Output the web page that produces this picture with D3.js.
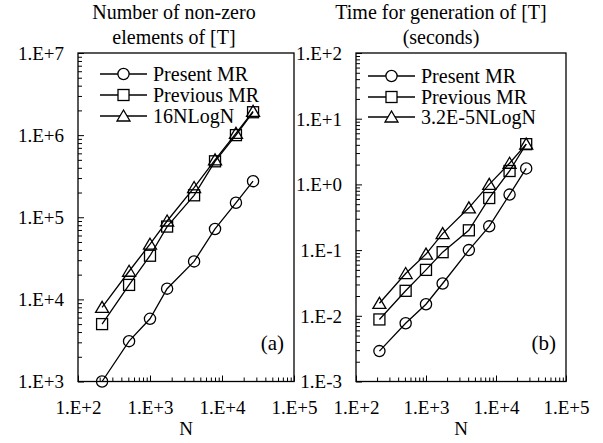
<!DOCTYPE html>
<html><head><meta charset="utf-8">
<script src="https://cdn.jsdelivr.net/npm/d3@7"></script>
<style>body{margin:0;background:#fff}svg{display:block}text{font-family:"Liberation Serif","Times New Roman",serif;fill:#000}</style>
</head><body><svg id="c" width="603" height="443"></svg>
<script>
// ---- data ----
const N = [216, 512, 1000, 1728, 4096, 8000, 15625, 27000];
const xTickLabels = ["1.E+2", "1.E+3", "1.E+4", "1.E+5"];
const seriesNames = ["Present MR", "Previous MR"];
// panel (a): non-zero elements
const nnzPresent  = [1000, 3100, 5800, 13500, 29000, 72000, 150000, 275000];
const nnzPrevious = [5000, 15000, 34000, 77000, 185000, 480000, 1000000, 1900000];
const nnzRef      = [8000, 22000, 47000, 90000, 230000, 500000, 1050000, 1950000];
const nnzRefName  = "16NLogN";
const nnzYLabels  = ["1.E+3", "1.E+4", "1.E+5", "1.E+6", "1.E+7"];
// panel (b): generation time (s)
const timePresent  = [0.0029, 0.0077, 0.0150, 0.031, 0.10, 0.23, 0.70, 1.75];
const timePrevious = [0.0088, 0.024, 0.050, 0.093, 0.20, 0.62, 1.6, 4.1];
const timeRef      = [0.0155, 0.044, 0.087, 0.178, 0.44, 1.0, 2.1, 4.1];
const timeRefName  = "3.2E-5NLogN";
const timeYLabels  = ["1.E-3", "1.E-2", "1.E-1", "1.E+0", "1.E+1", "1.E+2"];

const svg = d3.select("#c");
const FONT = "Liberation Serif";

function minorTicks(lo, hi) {
  const out = [];
  for (let e = Math.round(Math.log10(lo)); e < Math.round(Math.log10(hi)); e++)
    for (let k = 2; k <= 9; k++) out.push(k * Math.pow(10, e));
  return out;
}

function marker(g, type, x, y, fill) {
  if (type === 0) g.append("circle").attr("cx", x).attr("cy", y).attr("r", 5.6)
      .attr("fill", fill).attr("stroke", "#000").attr("stroke-width", 1.3);
  else if (type === 1) g.append("rect").attr("x", x - 5.5).attr("y", y - 5.5).attr("width", 11).attr("height", 11)
      .attr("fill", fill).attr("stroke", "#000").attr("stroke-width", 1.3);
  else g.append("path").attr("d", `M${x},${y - 6}L${x - 6.5},${y + 5}L${x + 6.5},${y + 5}Z`)
      .attr("fill", fill).attr("stroke", "#000").attr("stroke-width", 1.3);
}

function panel(o) {
  const x = d3.scaleLog().domain([1e2, 1e5]).range([o.x0, o.x1]);
  const y = d3.scaleLog().domain(o.yDomain).range([o.y0, o.y1]);
  const g = svg.append("g");

  // minor ticks
  const ax = g.append("g").attr("transform", `translate(0,${o.y0})`)
    .call(d3.axisBottom(x).tickValues(minorTicks(1e2, 1e5)).tickSize(-4).tickFormat(""));
  ax.select(".domain").remove();
  const ay = g.append("g").attr("transform", `translate(${o.x0},0)`)
    .call(d3.axisLeft(y).tickValues(minorTicks(o.yDomain[0], o.yDomain[1])).tickSize(-4).tickFormat(""));
  ay.select(".domain").remove();
  // major ticks
  const xMaj = [1e2, 1e3, 1e4, 1e5];
  const bx = g.append("g").attr("transform", `translate(0,${o.y0})`)
    .call(d3.axisBottom(x).tickValues(xMaj).tickSize(-6).tickFormat((d, i) => xTickLabels[i]));
  bx.select(".domain").remove();
  bx.selectAll("text").attr("y", 0).attr("dy", 0).attr("transform", "translate(0,32)")
    .style("font-family", FONT).style("font-size", "19px");
  const yMaj = o.yLabels.map((_, i) => o.yDomain[0] * Math.pow(10, i));
  const by = g.append("g").attr("transform", `translate(${o.x0},0)`)
    .call(d3.axisLeft(y).tickValues(yMaj).tickSize(-6).tickFormat((d, i) => o.yLabels[i]));
  by.select(".domain").remove();
  by.selectAll("text").attr("x", -14).attr("dy", "0.34em")
    .style("font-family", FONT).style("font-size", "19px");
  g.selectAll(".tick line").attr("stroke", "#000").attr("stroke-width", 1);

  // frame
  g.append("rect").attr("x", o.x0).attr("y", o.y1).attr("width", o.x1 - o.x0).attr("height", o.y0 - o.y1)
    .attr("fill", "none").attr("stroke", "#000").attr("stroke-width", 1.3);

  // series
  const line = d3.line().x((d, i) => x(N[i])).y(d => y(d));
  o.series.forEach((s, k) => {
    g.append("path").attr("d", line(s)).attr("fill", "none").attr("stroke", "#000").attr("stroke-width", 1.3);
    s.forEach((v, i) => marker(g, k, x(N[i]), y(v), "none"));
  });

  // legend
  o.names.forEach((nm, k) => {
    const ly = o.legY[k];
    g.append("line").attr("x1", o.legX).attr("x2", o.legX + 47).attr("y1", ly).attr("y2", ly)
      .attr("stroke", "#000").attr("stroke-width", 1.3);
    marker(g, k, o.legX + 23.5, ly, "#fff");
    g.append("text").attr("x", o.legX + 53).attr("y", ly).attr("dy", "0.34em")
      .style("font-size", "20px").text(nm);
  });

  // title
  o.title.forEach((t, i) => g.append("text").attr("x", o.tx).attr("y", 19 + i * 25)
    .attr("text-anchor", "middle").style("font-size", "20px").text(t));
  // axis title
  g.append("text").attr("x", (o.x0 + o.x1) / 2).attr("y", 435).attr("text-anchor", "middle")
    .style("font-size", "19px").text("N");
  // panel letter
  g.append("text").attr("x", o.x1 - 10).attr("y", 350).attr("text-anchor", "end")
    .style("font-size", "21px").text(o.letter);
}

panel({x0: 78, x1: 294, y0: 381.5, y1: 53, yDomain: [1e3, 1e7], yLabels: nnzYLabels,
  series: [nnzPresent, nnzPrevious, nnzRef], names: [...seriesNames, nnzRefName],
  legX: 100, legY: [74, 95, 116], title: ["Number of non-zero", "elements of [T]"], tx: 174, letter: "(a)"});
panel({x0: 356, x1: 566, y0: 381.5, y1: 53, yDomain: [1e-3, 1e2], yLabels: timeYLabels,
  series: [timePresent, timePrevious, timeRef], names: [...seriesNames, timeRefName],
  legX: 368, legY: [76, 97, 117], title: ["Time for generation of [T]", "(seconds)"], tx: 441, letter: "(b)"});
</script></body></html>
